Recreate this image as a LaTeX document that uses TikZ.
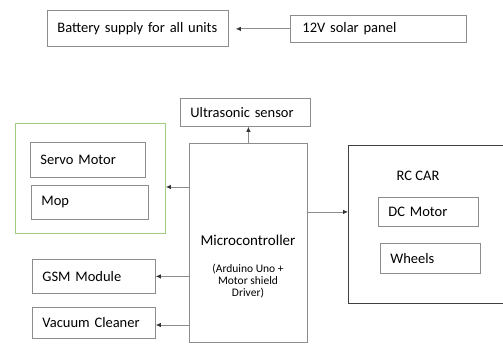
\documentclass[tikz,border=0pt]{standalone}
\usepackage{fontspec}
\setmainfont{Carlito}
\usetikzlibrary{arrows.meta}
\definecolor{lgray}{RGB}{140,140,140}
\definecolor{lgreen}{RGB}{160,205,130}
\tikzset{
  box/.style={draw=lgray, line width=0.8pt, inner xsep=10pt, inner ysep=0pt, align=left, anchor=north west, font=\fontsize{14.5}{16}\selectfont},
  arr/.style={draw=lgray, line width=0.8pt, -{Latex[length=5pt,width=4.5pt,color=black!80]}},
  txt/.style={align=center, inner sep=0pt}
}
\begin{document}
\begin{tikzpicture}[x=1pt,y=-1pt]
\useasboundingbox (0,0) rectangle (503,345);
% top row
\node[box, text width=161pt, minimum height=36pt] (bat) at (47,10) {Battery supply for all units};
\node[box, inner xsep=12pt, text width=152pt, minimum height=27pt] (sol) at (290,15) {12V solar panel};
\draw[arr, shorten >=7pt] (sol.west) -- (sol.west -| bat.east);
% ultrasonic
\node[box, text width=110pt, minimum height=28pt] (us) at (180,98) {Ultrasonic sensor};
% microcontroller
\node[draw=lgray, line width=0.8pt, minimum width=118pt, minimum height=199pt, anchor=north west, inner sep=0pt] (mc) at (189,143) {};
\node[txt, font=\fontsize{15}{17}\selectfont] (mct) at (248,240) {Microcontroller};
\node[txt, font=\fontsize{11.5}{12}\selectfont] (mcs) at (248,281) {(Arduino Uno +\\Motor shield\\Driver)};
\draw[arr] (mc.north) -- (mc.north |- us.south);
% green group
\node[draw=lgreen, line width=0.9pt, minimum width=150pt, minimum height=110pt, anchor=north west, inner sep=0pt] (grp) at (15,123) {};
\node[box, text width=95pt, minimum height=35pt] (servo) at (30,142) {Servo Motor};
\node[box, text width=97pt, minimum height=34pt] (mop) at (31,185) {Mop};
\coordinate (g1) at (189,187);
\draw[arr] (g1) -- (g1 -| grp.east);
% left boxes
\node[box, text width=103pt, minimum height=34pt] (gsm) at (32,259) {GSM Module};
\node[box, text width=103pt, minimum height=31pt] (vac) at (32,307) {Vacuum Cleaner};
\draw[arr] (mc.west |- gsm.east) -- (gsm.east);
\coordinate (v1) at (189,325);
\draw[arr] (v1) -- (v1 -| vac.east);
% RC car
\node[draw=black!75, line width=0.9pt, minimum width=155pt, minimum height=158pt, anchor=north west, inner sep=0pt] (rc) at (348,145) {};
\node[txt, font=\fontsize{14.5}{16}\selectfont] (rct) at (418,176) {RC CAR};
\node[box, text width=80pt, minimum height=29pt] (dc) at (378,197) {DC Motor};
\node[box, text width=80pt, minimum height=30pt] (wh) at (380,243) {Wheels};
\draw[arr] (mc.east |- dc) -- (rc.west |- dc);
\end{tikzpicture}
\end{document}
